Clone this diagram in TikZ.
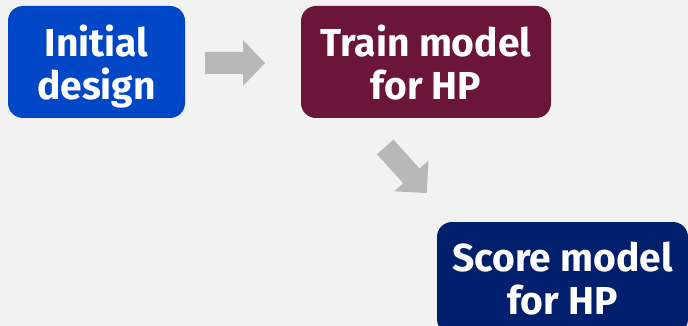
\documentclass[tikz,border=0pt]{standalone}
\usepackage{fontspec}
\setmainfont{Fira Sans}
\definecolor{bgcol}{HTML}{F2F2F2}
\definecolor{blueA}{HTML}{0047C8}
\definecolor{maroonA}{HTML}{6A1539}
\definecolor{navyA}{HTML}{00206E}
\definecolor{arrowgray}{HTML}{B8B8B8}
\tikzset{
  stagebox/.style={rounded corners=15pt, text=white, align=center, inner sep=0pt,
    font=\fontsize{39}{43}\selectfont\bfseries, minimum height=112pt, text depth=0pt},
  blockarrow/.style={fill=arrowgray, draw=none}
}
\begin{document}
\begin{tikzpicture}[x=1pt, y=-1pt]
  % canvas and clipping frame
  \fill[bgcol] (0,0) rectangle (688,326);
  \useasboundingbox (0,0) rectangle (688,326);
  \clip (0,0) rectangle (688,326);

  % stages
  \node[stagebox, fill=blueA, minimum width=177pt] (init) at (96.5,62) {Initial\\design};
  \node[stagebox, fill=maroonA, minimum width=250pt] (train) at (426,62) {Train model\\for HP};
  \node[stagebox, fill=navyA, minimum width=251pt] (score) at (562.5,278) {Score model\\for HP};

  % block arrows between stages
  \begin{scope}[shift={(235,63)}]
    \fill[blockarrow] (-30,-11) -- (8,-11) -- (8,-23) -- (30,0) -- (8,23) -- (8,11) -- (-30,11) -- cycle;
  \end{scope}
  \begin{scope}[shift={(406,170)}, rotate=-48]
    \fill[blockarrow] (-31,-11) -- (8,-11) -- (8,-23) -- (31,0) -- (8,23) -- (8,11) -- (-31,11) -- cycle;
  \end{scope}
\end{tikzpicture}
\end{document}
